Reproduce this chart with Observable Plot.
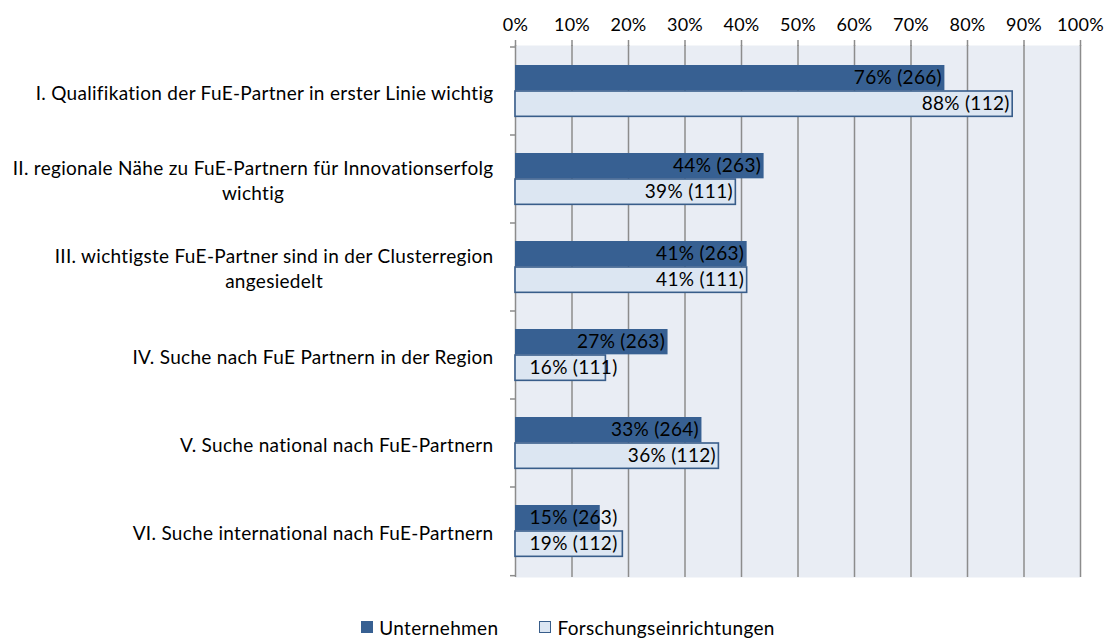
<!DOCTYPE html>
<html><head><meta charset="utf-8">
<script src="https://cdn.jsdelivr.net/npm/d3@7"></script>
<script src="https://cdn.jsdelivr.net/npm/@observablehq/plot@0.6"></script>
<style>
body{margin:0;background:#fff;font-family:Lato,sans-serif;}
#chart svg{display:block;}
#legend{height:34px;display:flex;justify-content:center;align-items:center;gap:41px;font-size:19px;letter-spacing:0.35px;color:#000;padding-left:23px;box-sizing:border-box;position:relative;top:5px;}
#legend .item{display:flex;align-items:center;gap:6px;}
#legend .sw{width:12px;height:12px;display:inline-block;box-sizing:border-box;}
</style></head><body>
<div id="chart"></div>
<div id="legend"></div>
<script>
const categories = [
  "I. Qualifikation der FuE-Partner in erster Linie wichtig",
  "II. regionale Nähe zu FuE-Partnern für Innovationserfolg\nwichtig",
  "III. wichtigste FuE-Partner sind in der Clusterregion\nangesiedelt",
  "IV. Suche nach FuE Partnern in der Region",
  "V. Suche national nach FuE-Partnern",
  "VI. Suche international nach FuE-Partnern"
];
const seriesNames = ["Unternehmen", "Forschungseinrichtungen"];
const unternehmenPct = [76, 44, 41, 27, 33, 15];
const unternehmenN   = [266, 263, 263, 263, 264, 263];
const forschungPct   = [88, 39, 41, 16, 36, 19];
const forschungN     = [112, 111, 111, 111, 112, 112];
const xTicks = [0, 10, 20, 30, 40, 50, 60, 70, 80, 90, 100];

const darkColor = "#376092";
const lightFill = "#DCE6F2";
const lightStroke = "#385D8A";
const gridColor = "#8C8C8C";
const bgColor = "#E9EDF4";

const dataU = categories.map((c, i) => ({cat: c, v: unternehmenPct[i], n: unternehmenN[i]}));
const dataF = categories.map((c, i) => ({cat: c, v: forschungPct[i], n: forschungN[i]}));

const W = 1113, H = 605, mL = 515, mR = 33, mT = 45, mB = 28;
const plotW = W - mL - mR;
const step = (H - mT - mB) / categories.length;
const fits = d => d.v / 100 * plotW > 112;
const label = d => `${d.v}% (${d.n})`;

function labelMarks(data, dy) {
  return [
    Plot.text(data.filter(fits), {x: "v", y: "cat", text: label, textAnchor: "end", dx: -3, dy, fill: "#000", style: {letterSpacing: "1.1px"}}),
    Plot.text(data.filter(d => !fits(d)), {x: 0, y: "cat", text: label, textAnchor: "start", dx: 14, dy, fill: "#000", style: {letterSpacing: "1.1px"}})
  ];
}

function bandTicks(index, scales, values, dims) {
  const g = d3.create("svg:g");
  const x0 = scales.x(0);
  const st = (dims.height - dims.marginTop - dims.marginBottom) / categories.length;
  const ys = categories.map(c => scales.y(c));
  ys.push(ys[ys.length - 1] + st);
  for (const y of ys) {
    g.append("line").attr("x1", x0 - 5).attr("x2", x0).attr("y1", y).attr("y2", y)
      .attr("stroke", gridColor).attr("stroke-width", 1.5);
  }
  return g.node();
}

const chart = Plot.plot({
  width: W, height: H,
  marginLeft: mL, marginRight: mR, marginTop: mT, marginBottom: mB,
  style: {fontFamily: "Lato, sans-serif", fontSize: "19px", color: "#000", background: "#fff", letterSpacing: "0.3px"},
  x: {domain: [0, 100], axis: null},
  y: {type: "band", domain: categories, padding: 0, axis: null},
  marks: [
    Plot.frame({fill: bgColor, stroke: "none"}),
    Plot.gridX(xTicks, {stroke: gridColor, strokeOpacity: 1, strokeWidth: 1.5}),
    Plot.axisX(xTicks, {anchor: "top", label: null, tickSize: 6, tickPadding: 9, tickFormat: d => d + "%", stroke: gridColor, strokeWidth: 1.5, fill: "#000", fontSize: 18}),
    bandTicks,
    Plot.barX(dataU, {x: "v", y: "cat", fill: darkColor, insetTop: 18, insetBottom: step - 44}),
    Plot.barX(dataF, {x: "v", y: "cat", fill: lightFill, stroke: lightStroke, strokeWidth: 1.6, insetTop: 44, insetBottom: step - 70}),
    ...labelMarks(dataU, 31 - step / 2),
    ...labelMarks(dataF, 57 - step / 2),
    Plot.text(categories, {y: d => d, text: d => d, frameAnchor: "left", textAnchor: "end", dx: -22, lineHeight: 1.32, fill: "#000"})
  ]
});
document.getElementById("chart").appendChild(chart);

// center the wrapped lines of multi-line category labels (as in the original)
chart.querySelectorAll("text").forEach(t => {
  const spans = t.querySelectorAll("tspan");
  if (spans.length > 1) {
    let maxW = 0;
    spans.forEach(s => { maxW = Math.max(maxW, s.getComputedTextLength()); });
    t.setAttribute("text-anchor", "middle");
    spans.forEach(s => s.setAttribute("x", -maxW / 2));
  }
});

// legend
const legend = d3.select("#legend");
const swatch = [{fill: darkColor, stroke: darkColor}, {fill: lightFill, stroke: lightStroke}];
seriesNames.forEach((name, i) => {
  const item = legend.append("span").attr("class", "item");
  item.append("span").attr("class", "sw").style("background", swatch[i].fill).style("border", `1.5px solid ${swatch[i].stroke}`);
  item.append("span").text(name);
});
</script>
</body></html>
